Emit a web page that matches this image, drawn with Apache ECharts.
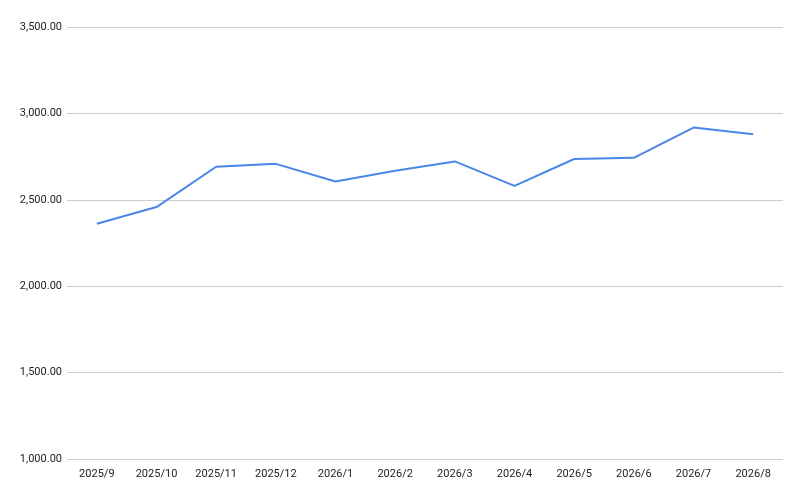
<!DOCTYPE html>
<html>
<head>
<meta charset="utf-8">
<script src="https://cdn.jsdelivr.net/npm/echarts@6/dist/echarts.min.js"></script>
<style>html,body{margin:0;padding:0;background:#fff}#c{width:800px;height:492px}</style>
</head>
<body>
<div id="c"></div>
<script>
const categories = ['2025/9','2025/10','2025/11','2025/12','2026/1','2026/2','2026/3','2026/4','2026/5','2026/6','2026/7','2026/8'];
const values = [2361, 2458, 2691, 2708, 2606, 2668, 2722, 2581, 2736, 2743, 2918, 2880];
const yMin = 1000, yMax = 3500, yStep = 500;

const chart = echarts.init(document.getElementById('c'), null, {renderer: 'canvas'});
chart.setOption({
  animation: false,
  backgroundColor: '#ffffff',
  grid: {left: 67, right: 17, top: 27, bottom: 33, containLabel: false},
  xAxis: {
    type: 'category',
    data: categories,
    boundaryGap: true,
    axisLine: {show: false},
    axisTick: {show: false},
    axisLabel: {color: '#222', fontFamily: 'Roboto, Arial, sans-serif', fontSize: 11, margin: 10, interval: 0}
  },
  yAxis: {
    type: 'value',
    min: yMin, max: yMax, interval: yStep,
    axisLine: {show: false},
    axisTick: {show: false},
    splitLine: {lineStyle: {color: '#cccccc', width: 1}},
    axisLabel: {
      color: '#222', fontFamily: 'Roboto, Arial, sans-serif', fontSize: 11, margin: 5,
      formatter: v => v.toLocaleString('en-US', {minimumFractionDigits: 2, maximumFractionDigits: 2})
    }
  },
  series: [{
    type: 'line',
    data: values,
    symbol: 'none',
    lineStyle: {color: '#4a86e8', width: 2},
    itemStyle: {color: '#4a86e8'}
  }]
});
</script>
</body>
</html>
